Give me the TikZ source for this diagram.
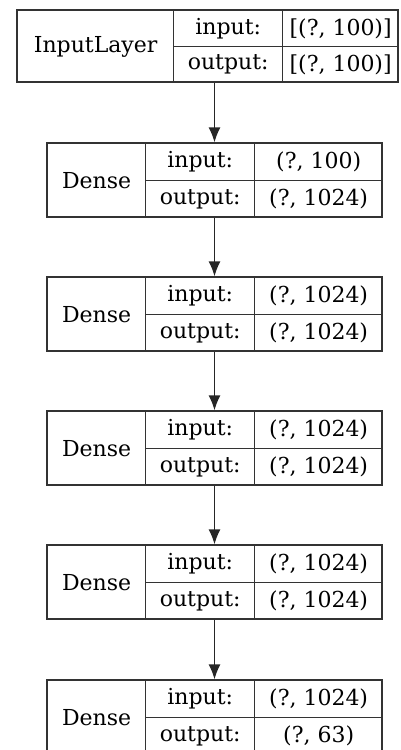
\documentclass[tikz,border=0pt]{standalone}
\usepackage{fontspec}
\setmainfont{DejaVu Serif}
\usetikzlibrary{arrows.meta}
\tikzset{
  >={Latex[length=15pt,width=12pt]},
  layerbox/.style={draw=black!80,line width=1.3pt,minimum height=74pt,inner sep=0pt},
  cell/.style={draw=black!80,line width=1.3pt,inner sep=0pt,anchor=north west,
    font=\fontsize{22}{26}\selectfont},
  namecell/.style={cell,minimum height=74pt},
  labelcell/.style={cell,minimum width=109pt,minimum height=37pt},
  valuecell/.style={cell,minimum width=128pt,minimum height=37pt},
  flow/.style={draw=black!85,line width=1.3pt,->}
}

\begin{document}
\begin{tikzpicture}[x=1pt,y=-1pt]
  \useasboundingbox (0,0) rectangle (401,750);

  % InputLayer
  \node[layerbox,minimum width=381pt,minimum height=72pt] (input) at (207.5,46) {};
  \node[namecell,minimum width=156pt,minimum height=72pt] (inputname) at (17,10) {InputLayer};
  \node[labelcell,minimum height=36pt] (inputin) at (173,10) {input:};
  \node[labelcell,minimum height=36pt] (inputout) at (173,46) {output:};
  \node[valuecell,minimum width=116pt,minimum height=36pt] (inputinval) at (282,10) {[(?, 100)]};
  \node[valuecell,minimum width=116pt,minimum height=36pt] (inputoutval) at (282,46) {[(?, 100)]};

  % Dense layers
  \foreach \i/\y/\inval/\outval in {1/143/{(?, 100)}/{(?, 1024)},
    2/277/{(?, 1024)}/{(?, 1024)}, 3/411/{(?, 1024)}/{(?, 1024)},
    4/545/{(?, 1024)}/{(?, 1024)}, 5/680/{(?, 1024)}/{(?, 63)}}
  {
    \node[layerbox,minimum width=335pt] (dense\i) at (214.5,\y+37) {};
    \node[namecell,minimum width=98pt] (dense\i name) at (47,\y) {Dense};
    \node[labelcell] (dense\i in) at (145,\y) {input:};
    \node[labelcell] (dense\i out) at (145,\y+37) {output:};
    \node[valuecell] (dense\i inval) at (254,\y) {\inval};
    \node[valuecell] (dense\i outval) at (254,\y+37) {\outval};
  }

  % Arrows
  \draw[flow] (input.south -| dense1.north) -- (dense1.north);
  \foreach \i [evaluate=\i as \j using int(\i+1)] in {1,...,4}
    \draw[flow] (dense\i) -- (dense\j);
\end{tikzpicture}
\end{document}
